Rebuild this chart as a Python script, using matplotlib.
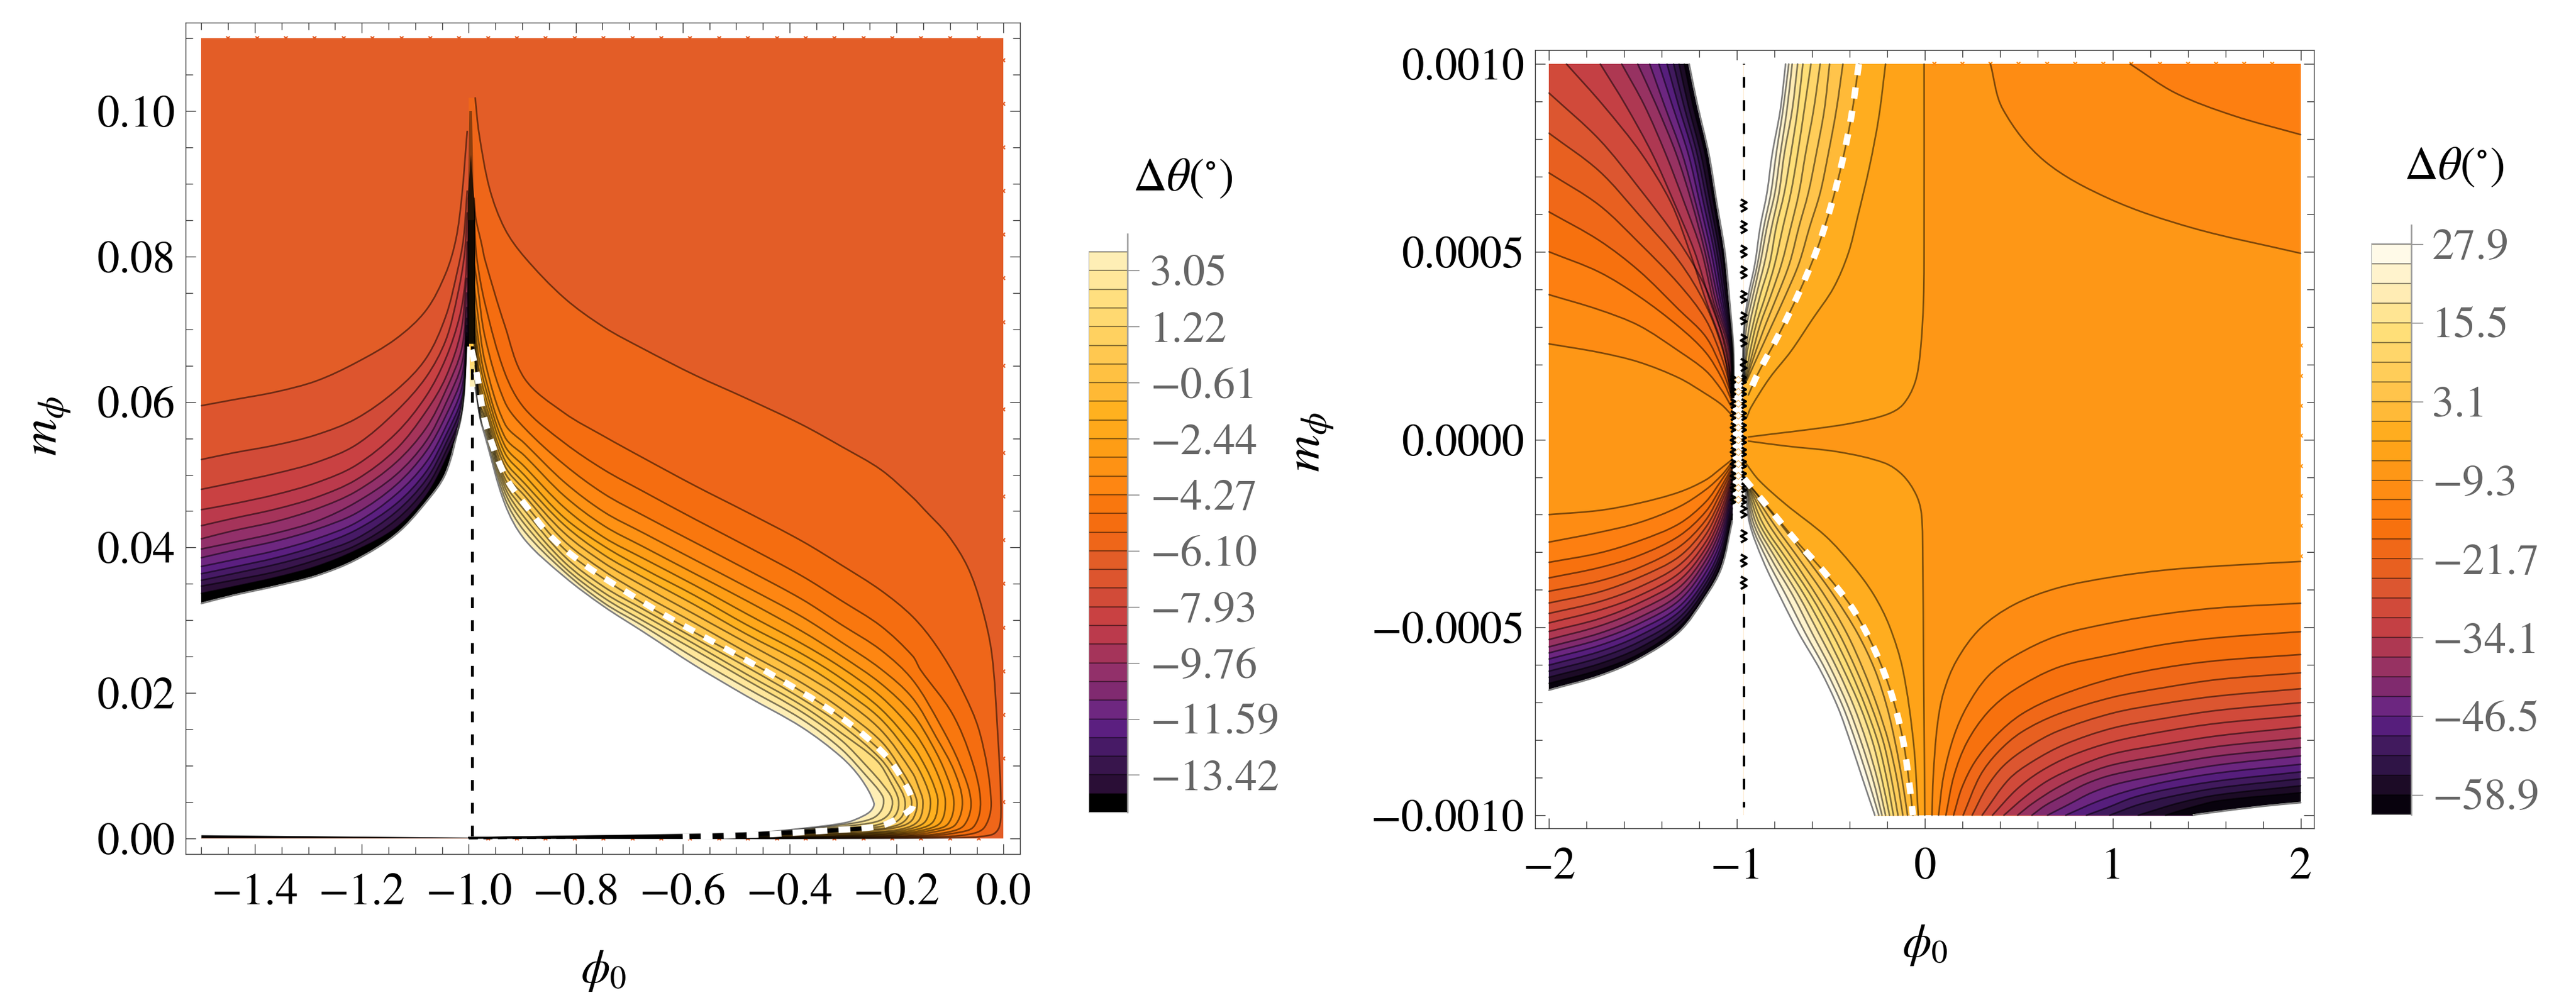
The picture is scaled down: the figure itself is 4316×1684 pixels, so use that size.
import numpy as np
import matplotlib
matplotlib.use("Agg")
import matplotlib.pyplot as plt
from matplotlib.path import Path
from matplotlib.patches import PathPatch
from matplotlib.ticker import FixedLocator

plt.rcParams['font.family'] = ['STIXGeneral', 'DejaVu Serif']
plt.rcParams['mathtext.fontset'] = 'stix'

# ---------------- colour bands (bottom to top) ----------------
BANDS_L = ['#000000','#2a0e36','#38154c','#471a66','#5b1f80','#6e2780','#802a70','#92306a','#a5345a','#bb3a4c',
           '#c94142','#d24b38','#dd552e','#e35d27','#ef6619','#f56d10','#f9770e','#fe8612','#fe9214','#fe9d15',
           '#ffa81a','#ffb11f','#ffb935','#ffc142','#ffc850','#ffd160','#ffd971','#ffdf7f','#ffe79a','#feeeb5']
LEVELS_L = [-14.64,-14.03,-13.42,-12.81,-12.2,-11.59,-10.98,-10.37,-9.76,-9.15,-8.54,-7.93,-7.32,-6.71,-6.1,-5.49,
            -4.88,-4.27,-3.66,-3.05,-2.44,-1.83,-1.22,-0.61,0.0,0.61,1.22,1.83,2.44,3.05,3.66]
TICKS_L = [-13.42,-11.59,-9.76,-7.93,-6.10,-4.27,-2.44,-0.61,1.22,3.05]
BANDS_R = ['#08020d','#1c0b26','#2f1446','#411a5e','#561e7c','#6c2680','#802a6e','#973262','#ae3852','#c44044',
           '#d14a3a','#dc5630','#e86020','#f06818','#f7710e','#fd7f11','#fe8c13','#fe9716','#ffa318','#ffad1f',
           '#ffba38','#ffc44b','#ffcd59','#ffd66a','#ffdf78','#ffe593','#ffecb4','#fff3cd','#fffae8']
LEVELS_R = [-62.0,-58.9,-55.8,-52.7,-49.6,-46.5,-43.4,-40.3,-37.2,-34.1,-31.0,-27.9,-24.8,-21.7,-18.6,-15.5,-12.4,
            -9.3,-6.2,-3.1,0.0,3.1,6.2,9.3,12.4,15.5,18.6,21.7,24.8,27.9]
TICKS_R = [-58.9,-46.5,-34.1,-21.7,-9.3,3.1,15.5,27.9]

# ---------------- left panel, family right of phi0=-1 ----------------
COLS_A = [-.9696,-.9326,-.8955,-.8215,-.7475,-.6735,-.5773,-.4810,-.3774,-.3034,-.2294,-.1701]
MID_A = [
 [None,.0838,.0799,.0743,.0703,.0673,.0637,.0605,.0569,.0539,.0507,.0469],
 [.0795,.0705,.0632,.0585,.0553,.0523,.0485,.0449,.0409,.0376,.0341,.0305],
 [.0735,.0640,.0591,.0544,.0507,.0477,.0439,.0402,.0361,.0327,.0292,.0251],
 [.0689,.0600,.0564,.0514,.0474,.0444,.0407,.0370,.0329,.0294,.0259,.0218],
 [.0655,.0570,.0543,.0490,.0449,.0420,.0383,.0346,.0305,.0270,.0233,.0193],
 [.0635,.0552,.0526,.0471,.0430,.0401,.0364,.0327,.0285,.0251,.0213,.0171],
 [.0622,.0540,.0511,.0455,.0414,.0385,.0348,.0309,.0268,.0235,.0195,.0149],
 [.0610,.0530,.0499,.0441,.0402,.0371,.0334,.0294,.0254,.0220,.0178,.0128],
 [.0600,.0520,.0488,.0431,.0390,.0359,.0321,.0281,.0241,.0206,.0164,.0109],
 [.0592,.0512,.0479,.0420,.0379,.0347,.0308,.0269,.0227,.0193,.0149,.0090],
 [.0586,.0503,.0471,.0409,.0368,.0335,.0296,.0256,.0214,.0178,.0134],
 [.0580,.0495,.0460,.0398,.0357,.0323,.0283,.0245,.0202,.0166,.0120],
 [.0576,.0489,.0451,.0388,.0346,.0315,.0275,.0236,.0192,.0156,.0109],
 [.0571,.0483,.0441,.0380,.0338,.0307,.0267,.0226,.0183,.0145],
 [.0566,.0476,.0432,.0373,.0331,.0299,.0259,.0218,.0174,.0135],
 [.0560,.0468,.0422,.0367,.0324,.0292,.0248,.0207,.0164,.0123],
 [.0553,.0460,.0411,.0360,.0319,.0284,.0238,.0196,.0153,.0112],
]
START_A = [
 [(-.988,.1018),(-.981,.097),(-.961,.0893)],
 [(-.990,.0880),(-.987,.0853),(-.976,.0817)],
 [(-.990,.0850),(-.985,.0798)],
 [(-.990,.0790),(-.984,.0762)],
 [(-.990,.0760),(-.983,.0720)],
 [(-.990,.0735),(-.983,.0690)],
 [(-.990,.0715),(-.982,.0665)],
 [(-.990,.0700),(-.981,.0645)],
 [(-.990,.0690),(-.980,.0630)],
 [(-.990,.0680),(-.980,.0620)],
 [(-.990,.0675),(-.980,.0610)],
 [(-.990,.0670),(-.980,.0600)],
 [(-.988,.0660),(-.979,.0595)],
 [(-.988,.0650),(-.979,.0590)],
 [(-.988,.0640),(-.979,.0585)],
 [(-.988,.0630),(-.979,.0580)],
 [(-.988,.0620),(-.978,.0575)],
]
TAIL_A = [
 [(-.148,.0452),(-.104,.0417),(-.067,.0373),(-.041,.0319),(-.022,.0254),(-.011,.0145),(-.005,.0051),(-.0080,.0016),(-.0232,.0005),(-.0989,.0001)],
 [(-.1257,.0265),(-.0813,.0210),(-.0443,.0145),(-.0232,.0051),(-.0351,.0016),(-.0630,.0006),(-.1387,.0002)],
 [(-.1554,.0232),(-.0961,.0172),(-.0591,.0107),(-.0431,.0051),(-.0550,.0017),(-.0869,.0008),(-.1547,.0003)],
 [(-.1183,.0156),(-.0813,.0101),(-.0610,.0051),(-.0730,.0019),(-.1029,.0009),(-.1666,.0004)],
 [(-.1257,.0139),(-.0924,.0093),(-.0770,.0051),(-.0889,.0020),(-.1168,.0011),(-.1786,.0005)],
 [(-.1331,.0128),(-.1072,.0088),(-.0929,.0051),(-.1029,.0021),(-.1308,.0012),(-.1905,.0006)],
 [(-.1405,.0115),(-.1183,.0079),(-.1088,.0051),(-.1168,.0023),(-.1427,.0013),(-.1985,.0007)],
 [(-.1443,.0096),(-.1294,.0071),(-.1228,.0051),(-.1308,.0024),(-.1547,.0014),(-.2065,.0008)],
 [(-.1479,.0079),(-.1367,.0051),(-.1447,.0025),(-.1666,.0015),(-.2145,.0009)],
 [(-.1590,.0071),(-.1507,.0051),(-.1567,.0027),(-.1766,.0016),(-.2224,.0010)],
 [(-.1924,.0096),(-.1626,.0053),(-.1686,.0028),(-.1866,.0018),(-.2304,.0012)],
 [(-.1961,.0088),(-.1726,.0054),(-.1786,.0030),(-.1965,.0019),(-.2384,.0013)],
 [(-.1998,.0077),(-.1846,.0053),(-.1886,.0032),(-.2065,.0021),(-.2463,.0015)],
 [(-.2368,.0107),(-.2108,.0077),(-.1965,.0053),(-.2005,.0034),(-.2184,.0023),(-.2583,.0016)],
 [(-.2516,.0096),(-.2257,.0074),(-.2085,.0054),(-.2125,.0036),(-.2304,.0025),(-.2703,.0019)],
 [(-.2516,.0082),(-.2331,.0066),(-.2244,.0054),(-.2284,.0039),(-.2444,.0028),(-.2822,.0021)],
 [(-.2664,.0082),(-.2424,.0049),(-.2471,.0039),(-.2623,.0031),(-.2942,.0022)],
]
BOTTOM_400 = [.00001,.00003,.00005,.00011,.00016,.00022,.00027,.00038,.00049,.00060,.00071,.00082,.00093,.00104,.00115,.00126,.00137]
BOTTOM_150 = [.00001,.00003,.00005,.00008,.00011,.00016,.00022,.00027,.00033,.00038,.00044,.00049,.00055,.00060,.00066,.00071,.00077]

# ---------------- left panel, family left of phi0=-1 ----------------
COLS_B = [-1.5,-1.441,-1.360,-1.285,-1.211,-1.136,-1.080,-1.043]
MID_B = [
 [.0595,.0603,.0614,.0629,.0654,.0687,.0726,.0777],
 [.0521,.0530,.0541,.0555,.0577,.0616,.0660,.0718],
 [.0480,.0489,.0502,.0517,.0541,.0587,.0634,.0685],
 [.0452,.0460,.0473,.0489,.0513,.0557,.0608,.0660],
 [.0430,.0440,.0453,.0469,.0493,.0535,.0587,.0634],
 [.0412,.0423,.0436,.0453,.0477,.0517,.0564,.0616],
 [.0398,.0407,.0420,.0436,.0462,.0500,.0546,.0598],
 [.0386,.0396,.0409,.0425,.0447,.0486,.0532,.0581],
 [.0374,.0383,.0396,.0412,.0434,.0473,.0517,.0566],
 [.0364,.0373,.0386,.0402,.0424,.0460,.0504,.0554],
 [.0355,.0364,.0377,.0392,.0412,.0449,.0493,.0543],
 [.0347,.0355,.0367,.0383,.0403,.0438,.0482,.0532],
 [.0337,.0346,.0359,.0374,.0396,.0427,.0471,.0521],
 [.0323,.0334,.0347,.0361,.0383,.0418,.0462,.0502],
]
TAIL_B = [
 [(-1.024,.0824),(-1.013,.0883),(-1.003,.0972)],
 [(-1.021,.0781),(-1.010,.0824),(-1.003,.0890)],
 [(-1.021,.0747),(-1.008,.0803),(-1.003,.0860)],
 [(-1.017,.0718),(-1.006,.0770),(-1.003,.0820)],
 [(-1.015,.0696),(-1.004,.0770)],
 [(-1.013,.0674),(-1.004,.0750)],
 [(-1.012,.0656),(-1.004,.0730)],
 [(-1.012,.0638),(-1.004,.0715)],
 [(-1.012,.0623),(-1.004,.0705)],
 [(-1.012,.0609),(-1.004,.0695)],
 [(-1.013,.0598),(-1.004,.0690)],
 [(-1.013,.0587),(-1.004,.0685)],
 [(-1.015,.0576),(-1.004,.0680)],
 [(-1.017,.0572),(-1.010,.0605),(-1.004,.0675)],
]
WHITE_A = [(-.995,.0672),(-.984,.0635),(-.970,.0575),(-.944,.0518),(-.924,.0488),(-.899,.0463),(-.845,.0414),(-.781,.0375),
           (-.710,.0341),(-.636,.0308),(-.562,.0278),(-.488,.0248),(-.414,.0217),(-.344,.0186),(-.274,.0150),(-.218,.0112),
           (-.192,.0085),(-.174,.0060),(-.170,.0044),(-.185,.0034),(-.2224,.0019),(-.2643,.0014),(-.3061,.0012),(-.348,.0010),
           (-.3906,.0008),(-.4329,.0006),(-.4755,.0005),(-.5174,.0004),(-.60,.00025)]
BLACK_THIN_A = [(-1.0,.0),(-.8,.0001),(-.6,.0002)]
BLACK_THICK_A = [(-.6,.0002),(-.5,.0005),(-.4,.0008),(-.3,.0012),(-.25,.0015)]
EDGE_TOP_L = [-1.45,-1.396,-1.342,-1.288,-1.234,-1.18,-1.126,-1.072,-1.018,-.964,-.91,-.856,-.802,-.748,-.694,-.64,-.586,-.532,-.478,-.424,-.37,-.316,-.262,-.208,-.154,-.1,-.046]
EDGE_RIGHT_L = [.107,.101,.095,.089,.083,.077,.071,.065,.059,.053,.047,.041,.035,.029,.023,.017,.011,.005]

# ---------------- right panel (m in units of 1e-4) ----------------
COLS_LL = [-2.0,-1.7336,-1.5209,-1.3082,-1.1664,-1.0813,-1.0246]
C1 = [-1.996,-2.729,-3.267,-3.682,-4.038,-4.350,-4.628,-4.881,-5.108,-5.322,-5.517,-5.679,-5.841,-6.003,-6.165,-6.327,-6.489,-6.671]
C2 = [-1.886,-2.469,-3.020,-3.410,-3.766,-4.058,-4.317,-4.544,-4.771,-4.966,-5.160,-5.322,-5.484,-5.647,-5.809,-5.971,-6.133,-6.295]
C3 = [-1.691,-2.210,-2.696,-3.085,-3.410,-3.669,-3.928,-4.155,-4.350,-4.544,-4.739,-4.901,-5.063,-5.225,-5.387,-5.549,-5.711,-5.841]
C4 = [-1.400,-1.789,-2.242,-2.567,-2.858,-3.118,-3.345,-3.559,-3.753,-3.941,-4.123,-4.285,-4.447,-4.590,-4.739,-4.868,-4.998,-5.128]
C5 = [-1.075,-1.335,-1.659,-1.918,-2.145,-2.340,-2.534,-2.729,-2.891,-3.053,-3.215,-3.377,-3.539,-3.701,-3.831,-3.961,-4.091,-4.188]
C6 = [-.751,-.946,-1.075,-1.237,-1.367,-1.529,-1.659,-1.821,-1.983,-2.145,-2.307,-2.469,-2.632,-2.794,-2.956,-3.085,-3.247,-3.410]
C7 = [-.524,-.589,-.654,-.719,-.784,-.848,-.913,-.978,-1.043,-1.108,-1.205,-1.302,-1.400,-1.529,-1.659,-1.821,-1.983,-2.178]

UL_COLS = [
 [2.549,2.322,2.063,1.641,1.220,.928,.636],
 [3.859,3.457,3.035,2.354,1.836,1.317,.831],
 [5.000,4.462,3.813,3.003,2.322,1.641,.993],
 [6.063,5.305,4.494,3.457,2.743,1.901,1.122],
 [7.101,6.245,5.240,4.137,3.197,2.192,1.220],
 [8.158,7.153,5.985,4.753,3.586,2.484,1.349],
 [9.227,7.995,6.699,5.272,4.040,2.808,1.479],
]
UL_ROWS_M = [10.0,8.903,7.606,6.310,5.012,3.716,2.420,1.122]
UL_ROWS = [
 [-1.907,-1.712,-1.507,-1.351,-1.252,-1.166,-1.074,-1.030],
 [-1.727,-1.592,-1.450,-1.334,-1.226,-1.145,-1.056,-1.028],
 [-1.613,-1.493,-1.379,-1.280,-1.188,-1.127,-1.046,-1.026],
 [-1.528,-1.429,-1.323,-1.240,-1.171,-1.114,-1.039,-1.024],
 [-1.464,-1.386,-1.291,-1.220,-1.155,-1.100,-1.036,-1.023],
 [-1.415,-1.344,-1.259,-1.198,-1.138,-1.088,-1.033,-1.022],
 [-1.372,-1.311,-1.233,-1.178,-1.121,-1.077,-1.030,-1.021],
 [-1.337,-1.283,-1.212,-1.159,-1.107,-1.067,-1.027,-1.020],
 [-1.308,-1.259,-1.192,-1.142,-1.093,-1.057,-1.025,-1.019],
 [-1.280,-1.234,-1.169,-1.124,-1.079,-1.049,-1.022,-1.018],
 [-1.254,-1.209,-1.149,-1.107,-1.064,-1.039,-1.018,-1.016],
]

UR_ROWS_M = [10.0,8.774,7.606,6.569,5.661,4.689,3.846,3.068,2.290,1.576]
UR_ROWS = [
 [-.436,-.471,-.514,-.557,-.613,-.670,-.741,-.812,-.883,-.947],
 [-.507,-.535,-.578,-.620,-.670,-.720,-.784,-.847,-.904,-.951],
 [-.557,-.592,-.635,-.670,-.713,-.762,-.819,-.876,-.918,-.954],
 [-.606,-.642,-.677,-.713,-.755,-.798,-.847,-.897,-.932,-.957],
 [-.649,-.677,-.713,-.748,-.791,-.826,-.876,-.914,-.947,-.959],
 [-.677,-.706,-.748,-.776,-.815,-.854,-.897,-.932,-.954,-.961],
 [-.706,-.734,-.769,-.798,-.840,-.876,-.914,-.947,-.961,-.962],
 [-.724,-.755,-.791,-.819,-.857,-.890,-.928,-.957,-.965,-.965],
 [-.741,-.769,-.812,-.840,-.876,-.904,-.939,-.961,-.968,-.968],
]
U1 = [(-.004,10.0),(-.004,5.66),(-.007,3.72),(-.025,2.29),(-.053,1.51),(-.117,.93),(-.202,.67),(-.387,.44),(-.599,.28),(-.812,.15),(-.939,.07)]
U2 = [(-.209,10.0),(-.245,8.58),(-.294,7.28),(-.358,5.92),(-.408,4.95),(-.486,4.04),(-.599,3.20),(-.713,2.35),(-.826,1.64),(-.925,.86),(-.947,.60)]
U3 = [(-.351,10.0),(-.391,8.61),(-.439,7.41),(-.500,6.21),(-.575,5.05),(-.670,3.91),(-.776,2.81),(-.890,1.74),(-.939,1.19)]

D_ROWS_M = [-1.27,-2.24,-3.22,-4.19,-5.16,-6.13,-7.11,-8.08,-9.05,-10.0]
D_ROWS = [
 [-.925,-.769,-.620,-.479,-.358,-.266,-.202,-.157,-.121,-.092],
 [-.932,-.805,-.663,-.528,-.415,-.327,-.252,-.191,-.148,-.117],
 [-.937,-.833,-.698,-.571,-.457,-.365,-.284,-.219,-.177,-.143],
 [-.939,-.861,-.730,-.602,-.493,-.398,-.316,-.248,-.202,-.167],
 [-.944,-.880,-.758,-.635,-.528,-.432,-.344,-.276,-.228,-.188],
 [-.947,-.897,-.786,-.667,-.564,-.464,-.377,-.308,-.252,-.209],
 [-.949,-.911,-.812,-.698,-.599,-.497,-.408,-.337,-.276,-.228],
 [-.951,-.923,-.837,-.734,-.635,-.528,-.436,-.365,-.302,-.245],
 [-.957,-.932,-.861,-.769,-.670,-.557,-.464,-.394,-.330,-.266],
]
D1 = [(-.939,-.04),(-.741,-.17),(-.457,-.33),(-.216,-.62),(-.117,-.95),(-.046,-1.47),(-.018,-1.98),(-.011,-3.22),(-.007,-5.81),(0.0,-10.0)]
D2 = [(-.954,-.62),(-.883,-1.08),(-.741,-1.72),(-.528,-2.57),(-.387,-3.34),(-.273,-4.12),(-.188,-4.97),(-.117,-6.13),(-.060,-8.08),(-.035,-10.0)]
D3 = [(-.961,-1.04),(-.847,-1.72),(-.691,-2.66),(-.528,-3.57),(-.379,-4.54),(-.262,-5.65),(-.177,-6.78),(-.117,-7.98),(-.082,-9.18),(-.063,-10.0)]

LOWER_R = [
 [(2.0,-3.244),(1.564,-3.366),(1.281,-3.472),(.998,-3.657),(.708,-3.948),(.473,-4.399),(.294,-5.034),(.169,-5.881),(.100,-6.728),(.066,-7.630),(.045,-8.95),(.038,-10)],
 [(2.0,-4.356),(1.564,-4.478),(1.281,-4.637),(.998,-4.875),(.708,-5.219),(.473,-5.775),(.335,-6.305),(.225,-7.10),(.155,-7.893),(.100,-8.95),(.073,-10)],
 [(2.0,-5.113),(1.564,-5.272),(1.281,-5.447),(.998,-5.722),(.708,-6.066),(.473,-6.675),(.335,-7.258),(.225,-8.05),(.155,-8.95),(.112,-10)],
 [(2.0,-5.722),(1.564,-5.881),(1.281,-6.066),(.998,-6.357),(.708,-6.834),(.515,-7.31),(.376,-7.893),(.266,-8.58),(.197,-9.27),(.153,-10)],
 [(2.0,-6.209),(1.564,-6.384),(1.281,-6.596),(.998,-6.861),(.708,-7.31),(.515,-7.787),(.390,-8.317),(.294,-8.95),(.204,-10)],
 [(2.0,-6.633),(1.564,-6.824),(1.281,-7.019),(.998,-7.284),(.708,-7.761),(.542,-8.21),(.418,-8.688),(.328,-9.27),(.252,-10)],
 [(2.0,-7.003),(1.564,-7.205),(1.281,-7.416),(.998,-7.683),(.749,-8.105),(.570,-8.58),(.446,-9.05),(.305,-10)],
 [(2.0,-7.348),(1.564,-7.549),(1.281,-7.761),(.998,-8.05),(.777,-8.42),(.611,-8.848),(.487,-9.32),(.360,-10)],
 [(2.0,-7.655),(1.564,-7.883),(1.281,-8.105),(.998,-8.37),(.805,-8.714),(.653,-9.084),(.528,-9.535),(.421,-10)],
 [(2.0,-7.946),(1.564,-8.166),(1.281,-8.397),(.998,-8.662),(.832,-8.95),(.694,-9.296),(.570,-9.698),(.494,-10)],
 [(2.0,-8.2),(1.564,-8.42),(1.281,-8.65),(.998,-8.925),(.860,-9.16),(.736,-9.48),(.639,-9.746),(.570,-10)],
 [(2.0,-8.42),(1.564,-8.66),(1.281,-8.9),(1.026,-9.163),(.888,-9.4),(.763,-9.72),(.653,-10)],
 [(2.0,-8.645),(1.564,-8.873),(1.281,-9.11),(1.067,-9.376),(.915,-9.64),(.750,-10)],
 [(2.0,-8.846),(1.564,-9.084),(1.281,-9.32),(1.108,-9.53),(.970,-9.8),(.860,-10)],
 [(2.0,-9.03),(1.564,-9.27),(1.302,-9.51),(1.136,-9.72),(.984,-10)],
 [(2.0,-9.216),(1.564,-9.455),(1.357,-9.667),(1.136,-10)],
 [(2.0,-9.4),(1.564,-9.615),(1.412,-9.8),(1.281,-10)],
 [(2.0,-9.667),(1.785,-9.77),(1.482,-9.96),(1.426,-10)],
]
V1 = [(.349,10.0),(.415,8.80),(.634,7.43),(.983,6.41),(1.421,5.64),(2.0,4.96)]
V2 = [(1.093,10.0),(1.333,9.23),(1.64,8.63),(2.0,8.12)]
WIGGLE_UP = [6.24,5.66,5.01,4.46,3.81,3.23,2.65,2.0]
WIGGLE_DOWN = [-1.92,-2.57,-3.22,-3.80]
WIGGLE_MID = [-1.6,-1.28,-.96,-.64,-.32,0.0,.32,.64,.96,1.28,1.6]
EDGE_TOP_R = [.05,.2,.35,.5,.65,.8,.95,1.1,1.25,1.4,1.55,1.7,1.85]
EDGE_RIGHT_R = [2.5,1.7,.9,.1,-.7,-1.5,-2.3,-3.1]

X_TICKS_L = [-1.4,-1.2,-1.0,-.8,-.6,-.4,-.2,0.0]
X_LABELS_L = ['\u22121.4','\u22121.2','\u22121.0','\u22120.8','\u22120.6','\u22120.4','\u22120.2','0.0']
Y_TICKS_L = [0.0,.02,.04,.06,.08,.10]
Y_LABELS_L = ['0.00','0.02','0.04','0.06','0.08','0.10']
X_TICKS_R = [-2,-1,0,1,2]
X_LABELS_R = ['\u22122','\u22121','0','1','2']
Y_TICKS_R = [-.001,-.0005,0.0,.0005,.001]
Y_LABELS_R = ['\u22120.0010','\u22120.0005','0.0000','0.0005','0.0010']

# ---------------- helpers ----------------
W, H = 4316, 1684
fig = plt.figure(figsize=(W/100, H/100), dpi=100)
FS = 54
LINE = dict(fc='none', ec=(0, 0, 0, .5), lw=1.95, capstyle='round', joinstyle='round')

def axes_px(x0, y0, x1, y1):
    return fig.add_axes([x0/W, 1-y1/H, (x1-x0)/W, (y1-y0)/H])

def smooth(pts, sx, sy):
    """Bezier path through the read-off points."""
    P = np.array(pts, float)
    S = P*[sx, sy]
    n = len(S)
    T = np.zeros_like(S)
    for i in range(n):
        d = S[min(i+1, n-1)] - S[max(i-1, 0)]
        T[i] = d/(np.hypot(*d)+1e-9)
    verts = [tuple(P[0])]
    codes = [Path.MOVETO]
    for i in range(n-1):
        L = np.hypot(*(S[i+1]-S[i]))/3
        a = (S[i]+T[i]*L)/[sx, sy]
        b = (S[i+1]-T[i+1]*L)/[sx, sy]
        verts += [tuple(a), tuple(b), tuple(P[i+1])]
        codes += [Path.CURVE4]*3
    return verts, codes

def add_region(ax, pts, closure, color, sx, sy, z):
    v, c = smooth(pts, sx, sy)
    for q in closure:
        v.append(q); c.append(Path.LINETO)
    v.append(v[0]); c.append(Path.CLOSEPOLY)
    ax.add_patch(PathPatch(Path(v, c), fc=color, ec=color, lw=2.2 if color == 'white' else .4, zorder=z))

def add_line(ax, pts, sx, sy, z=5):
    v, c = smooth(pts, sx, sy)
    ax.add_patch(PathPatch(Path(v, c), zorder=z, **LINE))

def frame(ax, xt, xl, yt, yl, xmin, ymin):
    ax.set_xticks(xt); ax.set_xticklabels(xl)
    ax.set_yticks(yt); ax.set_yticklabels(yl)
    ax.xaxis.set_minor_locator(FixedLocator(xmin))
    ax.yaxis.set_minor_locator(FixedLocator(ymin))
    ax.tick_params(which='major', direction='in', top=True, right=True, length=12.5, width=1.0, color='#333333',
                   labelsize=FS, pad=13)
    ax.tick_params(which='minor', direction='in', top=True, right=True, length=8.5, width=1.0, color='#333333')
    ax.tick_params(axis='x', which='major', pad=23)
    for s in ax.spines.values():
        s.set_linewidth(1.0); s.set_color('#333333')

def colorbar(box, lev, bands, ticks, labels, top_extra, labx):
    x0, ytop, x1, ybot, xtick = box
    ax = axes_px(x0, ytop, x1, ybot)
    ax.set_xlim(0, 1); ax.set_ylim(lev[0], top_extra); ax.axis('off')
    ax.barh(lev[:-1], 1, height=np.diff(lev), align='edge', color=bands, lw=0)
    ax.hlines(lev[1:], 0, 1, color=(0, 0, 0, .45), lw=1.5, zorder=3)
    ax.plot([1, 1], [lev[0], top_extra], color='#999999', lw=1.8, clip_on=False, zorder=4)
    ax.plot([0, 0], [lev[0], lev[-1]], color='#aaaaaa', lw=.8, clip_on=False, zorder=4)
    for t, s in zip(ticks, labels):
        ax.plot([1, xtick], [t, t], color='#777777', lw=1.0, clip_on=False)
        ax.text(labx, t, s, color='#666666', fontsize=FS-1, va='center_baseline', ha='left', clip_on=False)
    return ax

# ---------------- left panel ----------------
axL = axes_px(311, 38, 1709, 1431)
axL.set_xlim(-1.5295, .0308); axL.set_ylim(-.00213, .11214)
SXL, SYL = 896, 12190
axL.fill([-1.5, 0, 0, -1.5], [0, 0, .11, .11], color=BANDS_L[13], lw=0, zorder=1)
axL.plot(EDGE_TOP_L, [.11]*len(EDGE_TOP_L), ls='none', marker='x', ms=5, mew=1.6, color=BANDS_L[13], zorder=1)
axL.plot([0.0]*len(EDGE_RIGHT_L), EDGE_RIGHT_L, ls='none', marker='x', ms=5, mew=1.6, color=BANDS_L[13], zorder=1)
axL.plot(EDGE_TOP_L[9:], [0.0]*len(EDGE_TOP_L[9:]), ls='none', marker='x', ms=5, mew=1.6, color=BANDS_L[13], zorder=1)

curvesA = []
for k in range(17):
    mid = [(p, m) for p, m in zip(COLS_A, MID_A[k]) if m is not None]
    curvesA.append(START_A[k] + mid + TAIL_A[k] + [(-.3779, BOTTOM_400[k]), (-.4779, BOTTOM_150[k]), (-1.0, .0001)])
for k, c in enumerate(curvesA):
    col = BANDS_L[14+k] if 14+k < 30 else 'white'
    add_region(axL, c, [(-1.0, c[0][1])], col, SXL, SYL, 2)

curvesB = [[(p, m) for p, m in zip(COLS_B, MID_B[k])] + TAIL_B[k] for k in range(14)]
for k, c in enumerate(curvesB):
    col = BANDS_L[12-k] if 12-k >= 0 else 'white'
    add_region(axL, c, [(-1.0, c[-1][1]), (-1.0, .0002), (-1.5, .0002)], col, SXL, SYL, 2)

for c in curvesA + curvesB:
    add_line(axL, c, SXL, SYL)

# tip near phi0=-1
axL.fill([-1.003, -.988, -.988, -.996, -1.002], [.068, .068, .086, .094, .088], color='black', lw=0, alpha=.93, zorder=6)
axL.fill([-1.002, -.990, -.994, -.999], [.085, .085, .100, .100], color='#3a1e08', lw=0, alpha=.55, zorder=6)
# strip along m=0 left of phi0=-1
axL.fill([-1.5, -1.0, -1.0, -1.5], [.00005, .00005, .00012, .00045], color='black', lw=0, zorder=6)

axL.plot([-.994, -.994], [.0003, .068], color='black', lw=3.4, dashes=(3.8, 4.3), zorder=7)
bx, by = zip(*BLACK_THICK_A)
axL.plot(bx, by, color='black', lw=5.0, solid_capstyle='butt', zorder=7)
bx, by = zip(*BLACK_THIN_A)
axL.plot(bx, by, color='black', lw=2.2, dashes=(5, 3), zorder=7)
v, c = smooth(WHITE_A, SXL, SYL)
axL.add_patch(PathPatch(Path(v, c), fc='none', ec='white', lw=7.5, ls=(0, (1.9, 1.8)), capstyle='butt', zorder=8))

frame(axL, X_TICKS_L, X_LABELS_L, Y_TICKS_L, Y_LABELS_L,
      [-1.5,-1.45,-1.35,-1.3,-1.25,-1.15,-1.1,-1.05,-.95,-.9,-.85,-.75,-.7,-.65,-.55,-.5,-.45,-.35,-.3,-.25,-.15,-.1,-.05],
      [.005,.01,.015,.025,.03,.035,.045,.05,.055,.065,.07,.075,.085,.09,.095,.105,.11])
fig.text(1011/W, 1-1627/H, r'$\phi_0$', fontsize=FS+2, ha='center', va='center')
fig.text(83/W, 1-714/H, r'$m_\phi$', fontsize=FS+8, ha='center', va='center', rotation=90)

colorbar((1824, 392, 1889, 1361, 1.29), LEVELS_L, BANDS_L, TICKS_L,
         ['\u221213.42','\u221211.59','\u22129.76','\u22127.93','\u22126.10','\u22124.27','\u22122.44','\u22120.61','1.22','3.05'],
         4.245, 1.585)
fig.text(1982/W, 1-300/H, r'$\Delta\theta(^{\circ})$', fontsize=FS+2, ha='center', va='center')

# ---------------- right panel ----------------
axR = axes_px(2572, 84, 3877, 1388)
E = 1e-4
axR.set_xlim(-2.074, 2.071); axR.set_ylim(-10.35, 10.37)
SXR, SYR = 314.8, 62.95
axR.fill([-2, 2, 2, -2], [-10, -10, 10, 10], color=BANDS_R[17], lw=0, zorder=1)
axR.plot(EDGE_TOP_R, [10.0]*len(EDGE_TOP_R), ls='none', marker='x', ms=5, mew=1.6, color=BANDS_R[16], zorder=1)
axR.plot([2.0]*len(EDGE_RIGHT_R), EDGE_RIGHT_R, ls='none', marker='x', ms=5, mew=1.6, color=BANDS_R[17], zorder=1)

def idx(j):
    return BANDS_R[j] if 0 <= j < 29 else 'white'

lines_R = []
# top right corner
for k, c in enumerate([V1, V2]):
    add_region(axR, c, [(2.0, 10.0)], idx(16-k), SXR, SYR, 2)
    lines_R.append(c)
# bottom right
for k, c in enumerate(LOWER_R):
    add_region(axR, c, [(2.0, -10.0)], idx(16-k), SXR, SYR, 2)
    lines_R.append(c)
# bottom left
for k in range(18):
    c = [(p, col[k]) for p, col in zip(COLS_LL, [C1, C2, C3, C4, C5, C6, C7])]
    add_region(axR, c, [(-1.0, c[-1][1]), (-1.0, -10.0), (-2.0, -10.0)], idx(16-k), SXR, SYR, 2)
    lines_R.append(c)
# top left
for k, row in enumerate(UL_COLS):
    c = [(p, m) for p, m in zip(COLS_LL, row)]
    add_region(axR, c, [(-1.0, c[-1][1]), (-1.0, 10.0), (-2.0, 10.0)], idx(16-k), SXR, SYR, 2)
    lines_R.append(c)
for k, row in enumerate(UL_ROWS):
    c = [(p, m) for p, m in zip(row, UL_ROWS_M)]
    add_region(axR, c, [(-1.0, c[-1][1]), (-1.0, 10.0)], idx(16-7-k), SXR, SYR, 2)
    lines_R.append(c)
# top centre
upper = [U1, U2, U3] + [[(p, m) for p, m in zip(r, UR_ROWS_M)] for r in UR_ROWS]
for k, c in enumerate(upper):
    add_region(axR, c, [(-.96, c[-1][1]), (-.96, 10.0)], idx(18+k), SXR, SYR, 2)
    lines_R.append(c)
# bottom centre
lower = [D1, D2, D3] + [[(p, m) for p, m in zip(r, D_ROWS_M)] for r in D_ROWS]
for k, c in enumerate(lower):
    add_region(axR, c, [(-.96, -10.0), (-.96, c[0][1])], idx(18+k), SXR, SYR, 2)
    lines_R.append(c)
# white channel around phi0=-1
axR.fill([-1.022, -.966, -.966, -1.022], [-10.1, -10.1, 10.1, 10.1], color='white', lw=0, zorder=3)
for c in lines_R:
    add_line(axR, c, SXR, SYR)

zig = Path([(-.45, -1), (.45, -.5), (-.45, 0), (.45, .5), (-.45, 1)],
           [Path.MOVETO, Path.LINETO, Path.LINETO, Path.LINETO, Path.LINETO])
axR.plot([-.964]*len(WIGGLE_UP+WIGGLE_DOWN), WIGGLE_UP+WIGGLE_DOWN, ls='none', marker=zig, ms=15, mfc='none', mec='black', mew=2.8, zorder=8)
axR.plot([-.964]*len(WIGGLE_MID), WIGGLE_MID, ls='none', marker=zig, ms=11, mfc='none', mec='black', mew=3.0, zorder=8)
axR.plot([-1.022]*len(WIGGLE_MID), WIGGLE_MID, ls='none', marker=zig, ms=11, mfc='none', mec='black', mew=3.0, zorder=8)
axR.plot([-.995]*len(WIGGLE_MID), WIGGLE_MID, ls='none', marker='D', ms=6, mfc='white', mec='#f5a020', mew=.6, zorder=8)
axR.plot([-.961, -.961], [6.9, 10.0], color='black', lw=3, dashes=(4.3, 5.0), zorder=8)
axR.plot([-.961, -.961], [-4.1, -9.8], color='black', lw=3, dashes=(4.3, 5.0), zorder=8)
v, c = smooth(D3, SXR, SYR)
axR.add_patch(PathPatch(Path(v, c), fc='none', ec='white', lw=7.8, ls=(0, (1.75, 1.9)), capstyle='butt', zorder=9))
v, c = smooth(U3, SXR, SYR)
axR.add_patch(PathPatch(Path(v, c), fc='none', ec='white', lw=7.8, ls=(0, (1.75, 1.9)), capstyle='butt', zorder=9))

frame(axR, X_TICKS_R, X_LABELS_R, [t/E for t in Y_TICKS_R], Y_LABELS_R,
      [-1.8,-1.6,-1.4,-1.2,-.8,-.6,-.4,-.2,.2,.4,.6,.8,1.2,1.4,1.6,1.8],
      [-9,-8,-7,-6,-4,-3,-2,-1,1,2,3,4,6,7,8,9])
fig.text(3225/W, 1-1584/H, r'$\phi_0$', fontsize=FS+2, ha='center', va='center')
fig.text(2199/W, 1-741/H, r'$m_\phi$', fontsize=FS+8, ha='center', va='center', rotation=90)

colorbar((3973, 377, 4040, 1365, 1.28), LEVELS_R, BANDS_R, TICKS_R,
         ['\u221258.9','\u221246.5','\u221234.1','\u221221.7','\u22129.3','3.1','15.5','27.9'],
         30.9, 1.52)
fig.text(4112/W, 1-281/H, r'$\Delta\theta(^{\circ})$', fontsize=FS+2, ha='center', va='center')

fig.savefig('out.png', dpi=100, facecolor='white')
